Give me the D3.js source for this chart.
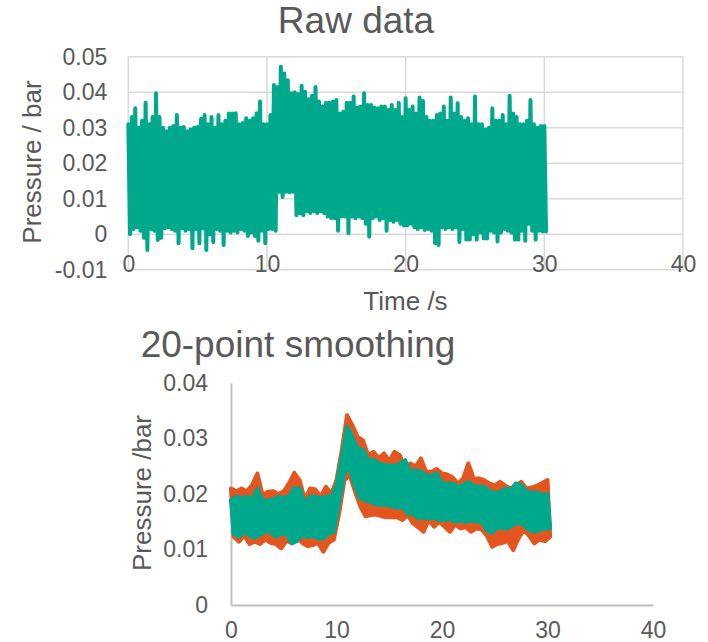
<!DOCTYPE html>
<html>
<head>
<meta charset="utf-8">
<script src="https://cdn.jsdelivr.net/npm/d3@7"></script>
<style>
  body { margin: 0; background: #fff; }
</style>
</head>
<body>
<svg id="chart" width="708" height="642"></svg>
<script>
const FONT = '"Liberation Sans", Arial, sans-serif';
const TEXT = "#595959";
const TEAL = "#00a98b";
const ORANGE = "#e4561f";

const xTicks = [0, 10, 20, 30, 40];
const rawYTicks = [-0.01, 0, 0.01, 0.02, 0.03, 0.04, 0.05];
const smoothYTicks = [0, 0.01, 0.02, 0.03, 0.04];

const rawStep = 0.25;
const rawHigh = [
  0.031, 0.033, 0.0355, 0.030, 0.032, 0.037, 0.031, 0.033, 0.0397, 0.033,
  0.030, 0.029, 0.030, 0.0305, 0.0336, 0.030, 0.0302, 0.029, 0.0295, 0.030,
  0.0302, 0.0325, 0.0336, 0.031, 0.033, 0.030, 0.0336, 0.031, 0.032, 0.034,
  0.034, 0.0341, 0.031, 0.0313, 0.0327, 0.032, 0.0327, 0.0341, 0.0374, 0.031,
  0.031, 0.0336, 0.042, 0.0415, 0.0472, 0.0453, 0.0434, 0.0397, 0.040, 0.0395,
  0.0418, 0.0401, 0.038, 0.039, 0.0415, 0.0374, 0.036, 0.037, 0.037, 0.0374,
  0.0378, 0.034, 0.0345, 0.037, 0.037, 0.0388, 0.0357, 0.036, 0.0397, 0.0364,
  0.0364, 0.0357, 0.0355, 0.036, 0.036, 0.035, 0.0364, 0.035, 0.037, 0.033,
  0.0383, 0.035, 0.036, 0.034, 0.0385, 0.0375, 0.033, 0.032, 0.032, 0.0336,
  0.034, 0.036, 0.032, 0.0385, 0.034, 0.0369, 0.033, 0.032, 0.0327, 0.031,
  0.0388, 0.031, 0.031, 0.0295, 0.030, 0.0355, 0.032, 0.032, 0.0336, 0.031,
  0.039, 0.034, 0.033, 0.031, 0.031, 0.032, 0.0378, 0.031, 0.030, 0.0305,
  0.0305
];
const rawLow = [
  0.000, 0.0015, 0.002, 0.001, -0.001, -0.0044, 0.0015, 0.001, -0.0016, -0.001,
  0.0017, 0.002, 0.0015, 0.001, -0.0025, 0.0017, 0.001, 0.0015, -0.0039, 0.0015,
  -0.0025, 0.0017, -0.0044, 0.000, -0.0022, 0.0015, 0.001, -0.003, 0.001, 0.0005,
  0.001, 0.0005, 0.0015, 0.001, -0.0005, 0.0005, -0.0005, -0.0018, 0.001, -0.0025,
  0.0015, 0.0015, 0.001, 0.012, 0.0105, 0.012, 0.0118, 0.012, 0.0054, 0.006,
  0.0054, 0.0065, 0.006, 0.0065, 0.006, 0.0065, 0.006, 0.005, 0.0046, 0.0045,
  0.001, 0.005, 0.005, 0.0003, 0.005, 0.0045, 0.005, 0.0045, 0.003, -0.0007,
  0.0045, 0.005, 0.004, 0.0045, 0.001, 0.004, 0.0035, 0.004, 0.003, 0.0025,
  0.0025, 0.003, 0.002, 0.0015, 0.002, 0.0012, 0.0015, 0.001, -0.0025, -0.003,
  0.002, 0.0015, 0.002, 0.0015, 0.002, -0.0022, 0.0015, -0.0015, -0.0015, 0.000,
  -0.0015, 0.0005, -0.0012, -0.0012, 0.001, 0.0005, -0.002, 0.0005, 0.0015, 0.001,
  0.0005, -0.0015, -0.0015, 0.001, -0.0018, 0.003, 0.001, -0.0015, 0.001, 0.0008,
  0.0008
];

// smoothed signals, sampled every 0.5 s (lows sit half a step later)
const smoothStep = 0.5;
const orangeHigh = [
  0.0210, 0.0205, 0.0210, 0.0205, 0.0216, 0.0237, 0.0198, 0.0204, 0.0205, 0.0200,
  0.0205, 0.0219, 0.0238, 0.0225, 0.0190, 0.0210, 0.0208, 0.0195, 0.0213, 0.0200,
  0.0225, 0.0279, 0.0342, 0.0324, 0.0303, 0.0297, 0.0270, 0.0276, 0.0265, 0.0273,
  0.0260, 0.0276, 0.0270, 0.0246, 0.0255, 0.0250, 0.0264, 0.0240, 0.0240, 0.0245,
  0.0237, 0.0235, 0.0230, 0.0219, 0.0228, 0.0255, 0.0228, 0.0228, 0.0225, 0.0219,
  0.0215, 0.0222, 0.0215, 0.0210, 0.0215, 0.0222, 0.0210, 0.0212, 0.0215, 0.0220,
  0.0225
];
const orangeLow = [
  0.0123, 0.0114, 0.0125, 0.0110, 0.0114, 0.0110, 0.0118, 0.0112, 0.0110, 0.0102,
  0.0115, 0.0112, 0.0122, 0.0112, 0.0106, 0.0108, 0.0112, 0.0096, 0.0112, 0.0118,
  0.0165, 0.0225, 0.0233, 0.0205, 0.0178, 0.0160, 0.0162, 0.0163, 0.0160, 0.0158,
  0.0158, 0.0158, 0.0153, 0.0162, 0.0147, 0.0140, 0.0132, 0.0153, 0.0141, 0.0150,
  0.0141, 0.0132, 0.0145, 0.0138, 0.0140, 0.0132, 0.0138, 0.0136, 0.0125, 0.0105,
  0.0110, 0.0112, 0.0115, 0.0099, 0.0120, 0.0135, 0.0125, 0.0111, 0.0118, 0.0115,
  0.0123
];
const tealHigh = [
  0.0189, 0.0195, 0.0192, 0.0195, 0.0189, 0.0210, 0.0187, 0.0189, 0.0190, 0.0195,
  0.0193, 0.0195, 0.0211, 0.0210, 0.0183, 0.0195, 0.0195, 0.0192, 0.0195, 0.0195,
  0.0215, 0.0267, 0.0321, 0.0303, 0.0282, 0.0280, 0.0261, 0.0262, 0.0255, 0.0252,
  0.0252, 0.0250, 0.0255, 0.0261, 0.0240, 0.0243, 0.0240, 0.0234, 0.0232, 0.0237,
  0.0219, 0.0219, 0.0219, 0.0213, 0.0216, 0.0222, 0.0215, 0.0213, 0.0213, 0.0205,
  0.0202, 0.0203, 0.0210, 0.0207, 0.0219, 0.0216, 0.0205, 0.0202, 0.0203, 0.0198,
  0.0200
];
const tealLow = [
  0.0129, 0.0123, 0.0132, 0.0125, 0.0121, 0.0127, 0.0132, 0.0132, 0.0123, 0.0128,
  0.0129, 0.0111, 0.0115, 0.0127, 0.0122, 0.0125, 0.0120, 0.0120, 0.0129, 0.0132,
  0.0185, 0.0240, 0.0245, 0.0215, 0.0192, 0.0189, 0.0185, 0.0182, 0.0180, 0.0180,
  0.0178, 0.0175, 0.0177, 0.0165, 0.0165, 0.0156, 0.0158, 0.0156, 0.0157, 0.0153,
  0.0153, 0.0155, 0.0150, 0.0152, 0.0150, 0.0152, 0.0150, 0.0150, 0.0135, 0.0130,
  0.0140, 0.0138, 0.0138, 0.0145, 0.0148, 0.0145, 0.0135, 0.0132, 0.0135, 0.0138,
  0.0138
];

// the thick trace swings from each peak to the following trough
function zigzag(high, low, step) {
  const pts = [];
  high.forEach((h, i) => {
    pts.push([i * step, h]);
    pts.push([i * step + step / 2, low[i]]);
  });
  return pts;
}

const fmt = d => d === 0 ? "0" : d.toFixed(2);

function styleAxis(g, size) {
  g.attr("font-family", FONT).attr("font-size", size);
  g.selectAll("text").attr("fill", TEXT);
}

const svg = d3.select("#chart");
svg.append("rect").attr("width", 708).attr("height", 642).attr("fill", "#fff");

// ---------- Raw data ----------
const x1 = d3.scaleLinear().domain([0, 40]).range([128.3, 683]);
const y1 = d3.scaleLinear().domain([-0.01, 0.05]).range([269.8, 56.7]);

const grid = svg.append("g").attr("stroke", "#d9d9d9").attr("stroke-width", 1.5);
grid.selectAll(".h").data(rawYTicks).enter().append("line")
  .attr("x1", x1(0)).attr("x2", x1(40))
  .attr("y1", d => y1(d)).attr("y2", d => y1(d));
grid.selectAll(".v").data(xTicks).enter().append("line")
  .attr("y1", y1(-0.01)).attr("y2", y1(0.05))
  .attr("x1", d => x1(d)).attr("x2", d => x1(d));

svg.append("g").attr("transform", `translate(${x1(0)},0)`)
  .call(d3.axisLeft(y1).tickValues(rawYTicks).tickFormat(fmt).tickSize(0).tickPadding(21))
  .call(g => g.select(".domain").remove())
  .call(g => styleAxis(g, 23));

svg.append("g").attr("transform", `translate(0,${y1(0)})`)
  .call(d3.axisBottom(x1).tickValues(xTicks).tickSize(0).tickPadding(21))
  .call(g => g.select(".domain").remove())
  .call(g => styleAxis(g, 23));

const line1 = d3.line().x(d => x1(d[0])).y(d => y1(d[1]));
svg.append("path")
  .attr("d", line1(zigzag(rawHigh, rawLow, rawStep)))
  .attr("fill", "none").attr("stroke", TEAL).attr("stroke-width", 4)
  .attr("stroke-linejoin", "round").attr("stroke-linecap", "round");

svg.append("text").attr("x", 356).attr("y", 33)
  .attr("text-anchor", "middle").attr("font-family", FONT).attr("font-size", 37)
  .attr("fill", TEXT).text("Raw data");

svg.append("text").attr("x", 405.5).attr("y", 310)
  .attr("text-anchor", "middle").attr("font-family", FONT).attr("font-size", 26)
  .attr("fill", TEXT).text("Time /s");

svg.append("text").attr("transform", "translate(41,162) rotate(-90)")
  .attr("text-anchor", "middle").attr("font-family", FONT).attr("font-size", 26)
  .attr("fill", TEXT).text("Pressure / bar");

// ---------- 20-point smoothing ----------
const x2 = d3.scaleLinear().domain([0, 40]).range([231, 653]);
const y2 = d3.scaleLinear().domain([0, 0.04]).range([605, 383]);

svg.append("g").attr("transform", `translate(${x2(0)},0)`)
  .call(d3.axisLeft(y2).tickValues(smoothYTicks).tickFormat(fmt).tickSize(0).tickSizeOuter(0).tickPadding(23))
  .call(g => g.select(".domain").attr("stroke", "#bfbfbf").attr("stroke-width", 2))
  .call(g => styleAxis(g, 23));

svg.append("g").attr("transform", `translate(0,${y2(0)})`)
  .call(d3.axisBottom(x2).tickValues(xTicks).tickSize(0).tickSizeOuter(0).tickPadding(17))
  .call(g => g.select(".domain").attr("stroke", "#bfbfbf").attr("stroke-width", 2))
  .call(g => styleAxis(g, 23));

// dense trace: fill the swept band between peaks and troughs, then stroke the trace
function drawTrace(high, low, color) {
  const band = high.map((h, i) => ({ t: i * smoothStep, h: h, l: low[i] }));
  const area = d3.area()
    .x1(d => x2(d.t)).y1(d => y2(d.h))
    .x0(d => x2(d.t + smoothStep / 2)).y0(d => y2(d.l));
  svg.append("path").attr("d", area(band))
    .attr("fill", color).attr("stroke", color).attr("stroke-width", 4)
    .attr("stroke-linejoin", "round");
  const line2 = d3.line().x(d => x2(d[0])).y(d => y2(d[1]));
  svg.append("path").attr("d", line2(zigzag(high, low, smoothStep)))
    .attr("fill", "none").attr("stroke", color).attr("stroke-width", 3)
    .attr("stroke-linejoin", "round").attr("stroke-linecap", "round");
}
drawTrace(orangeHigh, orangeLow, ORANGE);
drawTrace(tealHigh, tealLow, TEAL);

svg.append("text").attr("x", 298).attr("y", 357)
  .attr("text-anchor", "middle").attr("font-family", FONT).attr("font-size", 37)
  .attr("fill", TEXT).text("20-point smoothing");

svg.append("text").attr("transform", "translate(151,493) rotate(-90)")
  .attr("text-anchor", "middle").attr("font-family", FONT).attr("font-size", 26)
  .attr("fill", TEXT).text("Pressure /bar");
</script>
</body>
</html>
